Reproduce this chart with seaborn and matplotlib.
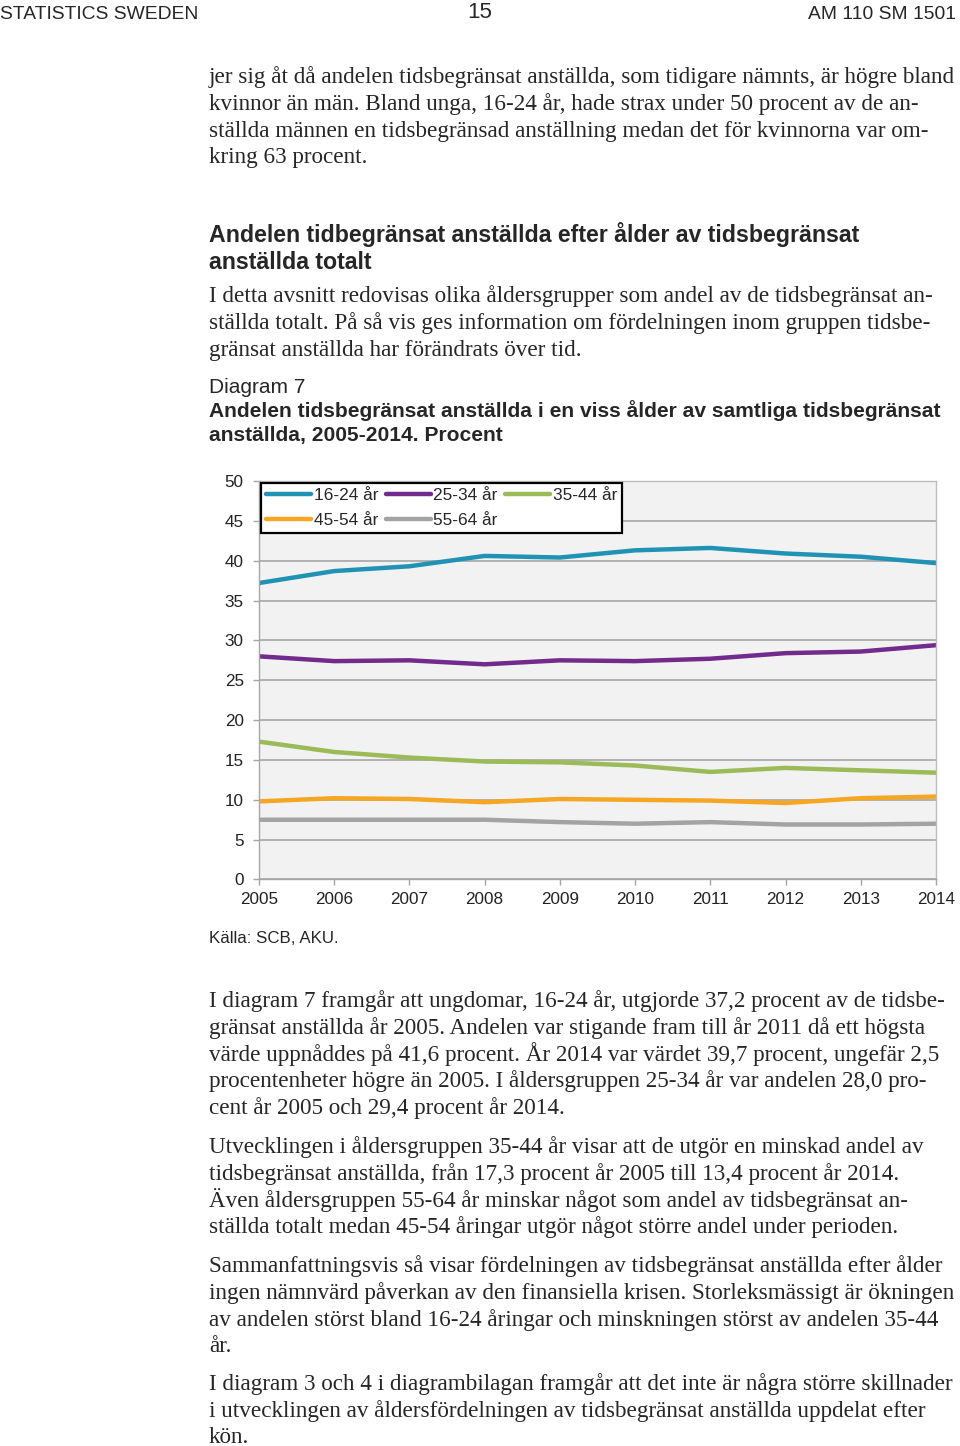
import seaborn as sns
import matplotlib.pyplot as plt
import pandas as pd

years = [2005, 2006, 2007, 2008, 2009, 2010, 2011, 2012, 2013, 2014]
age_16_24 = [37.2, 38.7, 39.3, 40.6, 40.4, 41.3, 41.6, 40.9, 40.5, 39.7]
age_25_34 = [28.0, 27.4, 27.5, 27.0, 27.5, 27.4, 27.7, 28.4, 28.6, 29.4]
age_35_44 = [17.3, 16.0, 15.3, 14.8, 14.7, 14.3, 13.5, 14.0, 13.7, 13.4]
age_45_54 = [9.8, 10.2, 10.1, 9.7, 10.1, 10.0, 9.9, 9.6, 10.2, 10.4]
age_55_64 = [7.5, 7.5, 7.5, 7.5, 7.2, 7.0, 7.2, 6.9, 6.9, 7.0]

groups = ["16-24 år", "25-34 år", "35-44 år", "45-54 år", "55-64 år"]
colors = ["#2093b4", "#722b8c", "#9bbb59", "#f5a623", "#a3a3a3"]

rows = []
for g, vals in zip(groups, [age_16_24, age_25_34, age_35_44, age_45_54, age_55_64]):
    for y, v in zip(years, vals):
        rows.append({"År": y, "Procent": v, "Ålder": g})
df = pd.DataFrame(rows)

sns.set_style("white")
plt.rcParams['font.family'] = ['Liberation Sans', 'DejaVu Sans']

fig = plt.figure(figsize=(9.6, 14.46), dpi=100)
W, H = 960, 1446

def px(x, y):
    return x / W, 1 - y / H

serif = ['Liberation Serif', 'DejaVu Serif']
sans = ['Liberation Sans', 'DejaVu Sans']

# page header
fig.text(*px(0, 19), "STATISTICS SWEDEN", family=sans, fontsize=13.9, va='baseline')
fig.text(*px(480, 18), "15", family=sans, fontsize=16, va='baseline', ha='center')
fig.text(*px(956, 19), "AM 110 SM 1501", family=sans, fontsize=13.9, va='baseline', ha='right')

def para(lines, y0, size=16.7, family=serif, weight='normal', step=26.8):
    for i, l in enumerate(lines):
        fig.text(*px(209, y0 + i * step), l, family=family, fontsize=size,
                 weight=weight, va='baseline')

para(["jer sig åt då andelen tidsbegränsat anställda, som tidigare nämnts, är högre bland",
      "kvinnor än män. Bland unga, 16-24 år, hade strax under 50 procent av de an-",
      "ställda männen en tidsbegränsad anställning medan det för kvinnorna var om-",
      "kring 63 procent."], 83)

para(["Andelen tidbegränsat anställda efter ålder av tidsbegränsat",
      "anställda totalt"], 242, size=16.7, family=sans, weight='bold', step=27)

para(["I detta avsnitt redovisas olika åldersgrupper som andel av de tidsbegränsat an-",
      "ställda totalt. På så vis ges information om fördelningen inom gruppen tidsbe-",
      "gränsat anställda har förändrats över tid."], 302)

fig.text(*px(209, 393), "Diagram 7", family=sans, fontsize=15, va='baseline')
para(["Andelen tidsbegränsat anställda i en viss ålder av samtliga tidsbegränsat",
      "anställda, 2005-2014. Procent"], 417, size=15.1, family=sans, weight='bold', step=24)

# chart
ax = fig.add_axes([259 / W, 1 - 879.5 / H, 677 / W, 398.5 / H])
ax.set_facecolor("#f2f2f2")
sns.lineplot(data=df, x="År", y="Procent", hue="Ålder", hue_order=groups,
             palette=dict(zip(groups, colors)), linewidth=3.2, ax=ax, legend=False)
ax.set_xlim(2005, 2014)
ax.set_ylim(0, 50)
ax.set_xticks(years)
ax.set_yticks(range(0, 51, 5))
ax.grid(axis='y', color='#a6a6a6', linewidth=1.2)
ax.set_axisbelow(True)
for s in ax.spines.values():
    s.set_color('#bdbdbd')
    s.set_linewidth(1.0)
ax.spines['left'].set_color('#a6a6a6')
ax.spines['bottom'].set_color('#a6a6a6')
ax.tick_params(axis='both', direction='out', length=4, width=1, color='#a6a6a6',
               labelsize=12.3, labelcolor='#222222')
ax.tick_params(axis='x', pad=5, bottom=True)
ax.tick_params(axis='y', pad=7, left=True)
ax.set_xlabel("")
ax.set_ylabel("")

handles = [plt.Line2D([], [], color=c, linewidth=3.2) for c in colors]
order = [0, 3, 1, 4, 2]
leg = ax.legend([handles[i] for i in order], [groups[i] for i in order], ncol=3,
                loc='upper left', bbox_to_anchor=(0.003, 0.995), borderaxespad=0,
                fontsize=12.4, frameon=True, fancybox=False, handlelength=2.6,
                handletextpad=0.15, columnspacing=0.45, labelspacing=0.55,
                borderpad=0.3)
leg.get_frame().set_edgecolor('black')
leg.get_frame().set_linewidth(1.6)
leg.get_frame().set_alpha(1)

fig.text(*px(209, 943), "Källa: SCB, AKU.", family=sans, fontsize=12.2, va='baseline')

para(["I diagram 7 framgår att ungdomar, 16-24 år, utgjorde 37,2 procent av de tidsbe-",
      "gränsat anställda år 2005. Andelen var stigande fram till år 2011 då ett högsta",
      "värde uppnåddes på 41,6 procent. År 2014 var värdet 39,7 procent, ungefär 2,5",
      "procentenheter högre än 2005. I åldersgruppen 25-34 år var andelen 28,0 pro-",
      "cent år 2005 och 29,4 procent år 2014."], 1007)

para(["Utvecklingen i åldersgruppen 35-44 år visar att de utgör en minskad andel av",
      "tidsbegränsat anställda, från 17,3 procent år 2005 till 13,4 procent år 2014.",
      "Även åldersgruppen 55-64 år minskar något som andel av tidsbegränsat an-",
      "ställda totalt medan 45-54 åringar utgör något större andel under perioden."], 1153)

para(["Sammanfattningsvis så visar fördelningen av tidsbegränsat anställda efter ålder",
      "ingen nämnvärd påverkan av den finansiella krisen. Storleksmässigt är ökningen",
      "av andelen störst bland 16-24 åringar och minskningen störst av andelen 35-44",
      "år."], 1272)

para(["I diagram 3 och 4 i diagrambilagan framgår att det inte är några större skillnader",
      "i utvecklingen av åldersfördelningen av tidsbegränsat anställda uppdelat efter",
      "kön."], 1390, step=26.5)

fig.savefig("out.png", dpi=100, facecolor='white')
